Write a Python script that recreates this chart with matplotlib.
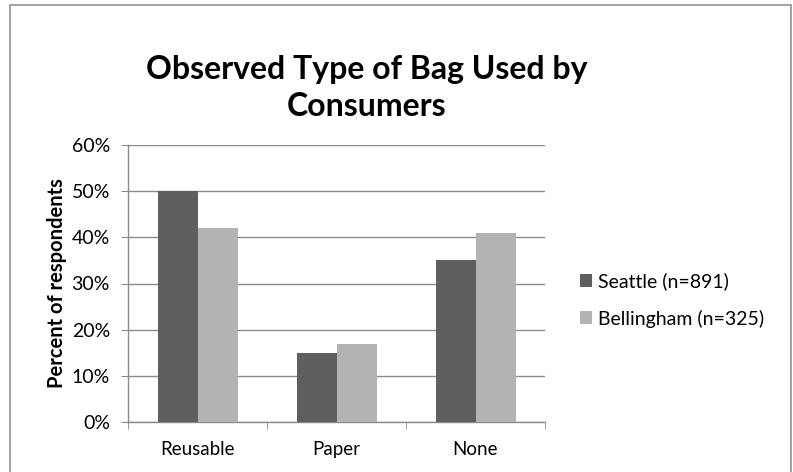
import matplotlib.pyplot as plt
import numpy as np
from matplotlib.patches import Rectangle
from matplotlib.ticker import PercentFormatter

categories = ['Reusable', 'Paper', 'None']
seattle = [50, 15, 35]
bellingham = [42, 17, 41]
series_labels = ['Seattle (n=891)', 'Bellingham (n=325)']

dark = '#5f5f5f'
light = '#b3b3b3'
grid_col = '#8a8a8a'

plt.rcParams['font.family'] = ['Lato', 'DejaVu Sans']

W, H = 793, 472
fig = plt.figure(figsize=(W / 100, H / 100), dpi=100)
fig.patch.set_facecolor('white')

# outer chart border
fig.add_artist(Rectangle((10 / W, -0.01), (781 / W), 1 - 5 / H + 0.01,
                         transform=fig.transFigure, fill=False,
                         edgecolor='#9a9a9a', lw=1.3))

ax = fig.add_axes([128 / W, 1 - 422 / H, 417 / W, 277 / H])

x = np.arange(len(categories))
w = 40 / 139
b1 = ax.bar(x - w / 2, seattle, w, color=dark, label=series_labels[0], zorder=3)
b2 = ax.bar(x + w / 2, bellingham, w, color=light, label=series_labels[1], zorder=3)

ax.set_xlim(-0.5, len(categories) - 0.5)
ax.set_ylim(0, 60)
ax.set_yticks(range(0, 61, 10))
ax.yaxis.set_major_formatter(PercentFormatter(decimals=0))
ax.yaxis.grid(True, color=grid_col, lw=1, zorder=0)

ax.set_xticks(x)
ax.set_xticklabels(categories, fontsize=13.5)
ax.set_xticks(np.arange(-0.5, len(categories)), minor=True)
ax.tick_params(axis='x', which='major', length=0, pad=14)
ax.tick_params(axis='x', which='minor', length=5, color=grid_col, direction='out')
ax.tick_params(axis='y', length=5, color=grid_col, labelsize=14, pad=8)

for s in ['top', 'right']:
    ax.spines[s].set_visible(False)
for s in ['left', 'bottom']:
    ax.spines[s].set_color(grid_col)
    ax.spines[s].set_linewidth(1)

ax.set_ylabel('Percent of respondents', fontsize=14.5, fontweight='bold', labelpad=3)

fig.text(367 / W, 1 - 88 / H, 'Observed Type of Bag Used by\nConsumers',
         ha='center', va='center', fontsize=23, fontweight='bold',
         linespacing=1.3)

fig.legend(handles=[b1, b2], loc='center left',
           bbox_to_anchor=(562 / W, 1 - 300 / H), frameon=False,
           fontsize=14, handlelength=0.65, handleheight=0.65,
           handletextpad=0.3, labelspacing=1.0)

fig.savefig('out.png', dpi=100)
